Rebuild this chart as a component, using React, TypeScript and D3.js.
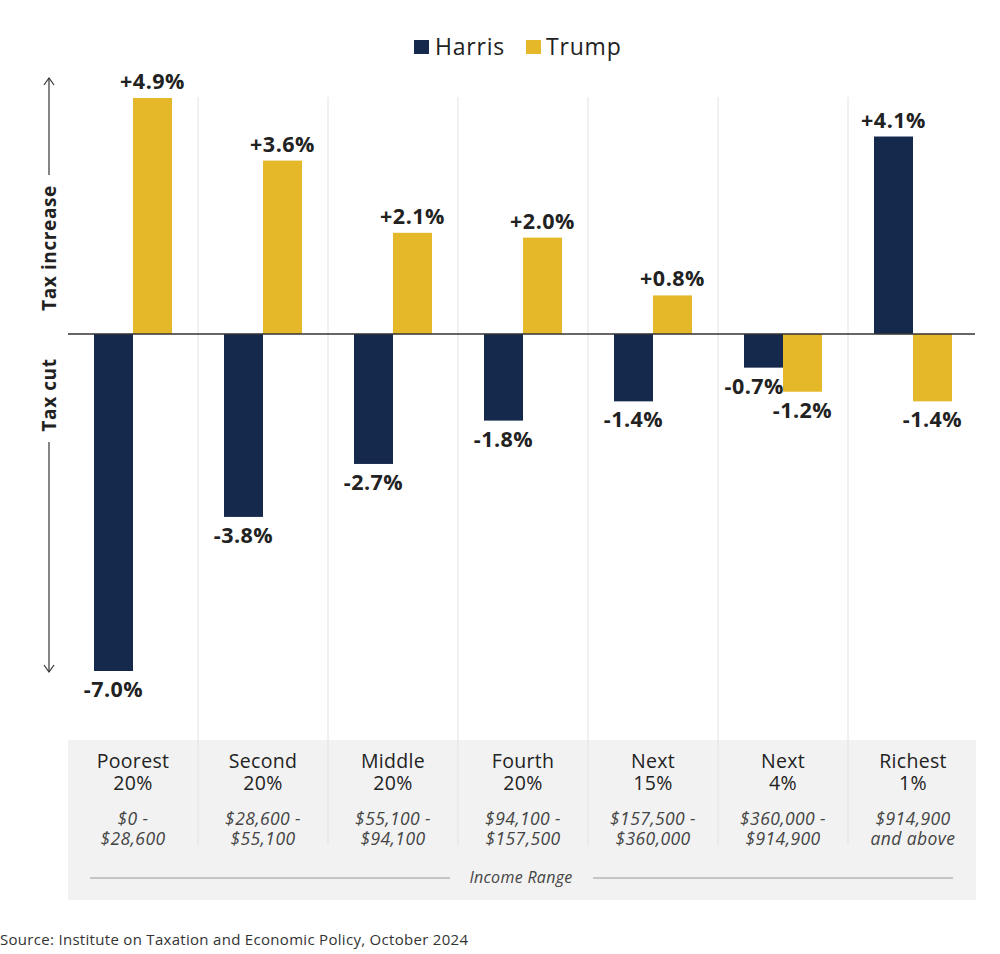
import React from 'react';
import * as d3 from 'd3';

const groups = ['Poorest', 'Second', 'Middle', 'Fourth', 'Next15', 'Next4', 'Richest'];
const groupTop = ['Poorest', 'Second', 'Middle', 'Fourth', 'Next', 'Next', 'Richest'];
const groupPct = ['20%', '20%', '20%', '20%', '15%', '4%', '1%'];
const rangeLine1 = ['$0 -', '$28,600 -', '$55,100 -', '$94,100 -', '$157,500 -', '$360,000 -', '$914,900'];
const rangeLine2 = ['$28,600', '$55,100', '$94,100', '$157,500', '$360,000', '$914,900', 'and above'];

const series = ['Harris', 'Trump'];
const harris = [-7.0, -3.8, -2.7, -1.8, -1.4, -0.7, 4.1];
const trump = [4.9, 3.6, 2.1, 2.0, 0.8, -1.2, -1.4];

const colors: Record<string, string> = { Harris: '#15294d', Trump: '#e5b829' };
const FONT = '"Open Sans", "DejaVu Sans", sans-serif';

const fmt = (v: number) => (v > 0 ? '+' : '') + v.toFixed(1) + '%';

const App: React.FC = () => {
  const width = 1000;
  const height = 954;

  const x = d3.scaleBand<string>().domain(groups).range([68, 978]).padding(0);
  const xs = d3
    .scaleBand<string>()
    .domain(series)
    .range([0, x.bandwidth()])
    .paddingInner(0)
    .paddingOuter(0.667);
  const y = d3.scaleLinear().domain([-7, 4.9]).range([671, 98]);
  const y0 = y(0);

  const values: Record<string, number[]> = { Harris: harris, Trump: trump };

  return (
    <svg width={width} height={height} style={{ position: 'absolute', left: 0, top: 0 }} fontFamily={FONT}>
      <rect width={width} height={height} fill="#fff" />

      {/* legend */}
      <g fontSize={23} fill="#222" fontWeight={500} letterSpacing={0.8}>
        <rect x={414} y={40} width={15} height={14} fill={colors.Harris} />
        <text x={435} y={55}>Harris</text>
        <rect x={526} y={40} width={15} height={14} fill={colors.Trump} />
        <text x={546} y={55}>Trump</text>
      </g>

      {/* income panel */}
      <rect x={68} y={740} width={908} height={160} fill="#f2f2f2" />

      {/* column separators */}
      {groups.slice(1).map((g) => (
        <line key={g} x1={x(g)} x2={x(g)} y1={97} y2={845} stroke="#e2e2e2" strokeWidth={1} />
      ))}

      {/* bars */}
      {groups.map((g, i) => (
        <g key={g} transform={`translate(${x(g)},0)`}>
          {series.map((s) => {
            const v = values[s][i];
            return (
              <rect
                key={s}
                x={xs(s)}
                y={Math.min(y(v), y0)}
                width={xs.bandwidth()}
                height={Math.abs(y(v) - y0)}
                fill={colors[s]}
              />
            );
          })}
          {series.map((s) => {
            const v = values[s][i];
            const bx = xs(s) as number;
            const bothNeg = harris[i] < 0 && trump[i] < 0;
            let tx = bx + xs.bandwidth() / 2;
            let anchor: 'middle' | 'end' = 'middle';
            if (s === 'Harris' && bothNeg) {
              tx = bx + xs.bandwidth() + 1;
              anchor = 'end';
            }
            return (
              <text
                key={s}
                x={tx}
                y={v > 0 ? y(v) - 9 : y(v) + 26}
                textAnchor={anchor}
                fontSize={21.5}
                fontWeight={700}
                letterSpacing={0.5}
                fill="#222"
              >
                {fmt(v)}
              </text>
            );
          })}
        </g>
      ))}

      {/* zero line */}
      <line x1={68} x2={975} y1={y0} y2={y0} stroke="#333" strokeWidth={1.5} />

      {/* y-axis direction labels */}
      <g stroke="#333" strokeWidth={1.2} fill="none">
        <line x1={49} x2={49} y1={78} y2={175} />
        <polyline points="44,85 49,78 54,85" />
        <line x1={49} x2={49} y1={442} y2={672} />
        <polyline points="44,665 49,672 54,665" />
      </g>
      <g fontSize={19} fontWeight={700} fill="#222" letterSpacing={0.6} textAnchor="middle">
        <text transform={`translate(56,248) rotate(-90)`}>Tax increase</text>
        <text transform={`translate(56,395) rotate(-90)`}>Tax cut</text>
      </g>

      {/* category labels */}
      {groups.map((g, i) => {
        const cx = (x(g) as number) + x.bandwidth() / 2;
        return (
          <g key={g} textAnchor="middle">
            <text x={cx} y={768} fontSize={19.5} fill="#222" fontWeight={500} letterSpacing={0.3}>
              {groupTop[i]}
              <tspan x={cx} dy={22}>{groupPct[i]}</tspan>
            </text>
            <text x={cx} y={825} fontSize={17.5} fill="#444" fontStyle="italic" letterSpacing={0.4}>
              {rangeLine1[i]}
              <tspan x={cx} dy={20}>{rangeLine2[i]}</tspan>
            </text>
          </g>
        );
      })}

      {/* income range axis title */}
      <line x1={90} x2={450} y1={878} y2={878} stroke="#999" strokeWidth={1} />
      <line x1={593} x2={953} y1={878} y2={878} stroke="#999" strokeWidth={1} />
      <text x={521} y={883} textAnchor="middle" fontSize={16} fontStyle="italic" fill="#444" letterSpacing={0.3}>
        Income Range
      </text>

      {/* source */}
      <text x={0} y={945} fontSize={15} fill="#333" fontWeight={500} letterSpacing={0.3}>
        Source: Institute on Taxation and Economic Policy, October 2024
      </text>
    </svg>
  );
};

export default App;
